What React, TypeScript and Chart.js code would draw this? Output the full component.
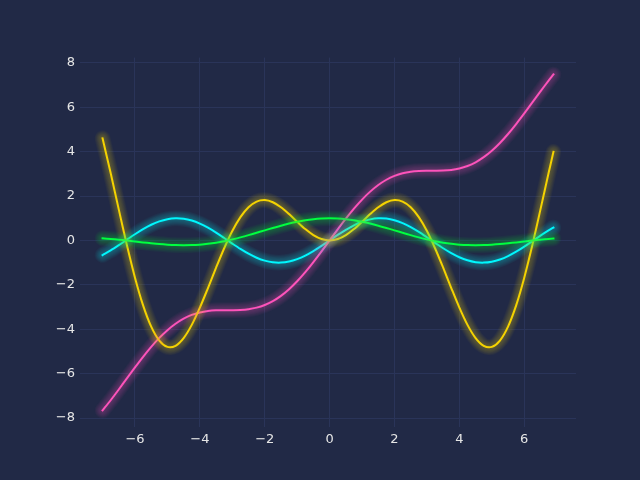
import React, { useEffect, useRef } from "react";
import { Chart, registerables } from "chart.js";

Chart.register(...registerables);

const xValues = [
  -7, -6.75, -6.5, -6.25, -6, -5.75, -5.5, -5.25, -5, -4.75, -4.5, -4.25, -4, -3.75, -3.5, -3.25,
  -3, -2.75, -2.5, -2.25, -2, -1.75, -1.5, -1.25, -1, -0.75, -0.5, -0.25, 0, 0.25, 0.5, 0.75,
  1, 1.25, 1.5, 1.75, 2, 2.25, 2.5, 2.75, 3, 3.25, 3.5, 3.75, 4, 4.25, 4.5, 4.75,
  5, 5.25, 5.5, 5.75, 6, 6.25, 6.5, 6.75, 6.9,
];

const cyanValues = [
  -0.657, -0.45, -0.215, 0.033, 0.279, 0.508, 0.706, 0.859, 0.959, 0.999, 0.978, 0.895, 0.757, 0.572, 0.351, 0.108,
  -0.141, -0.382, -0.599, -0.778, -0.909, -0.984, -0.998, -0.949, -0.841, -0.682, -0.479, -0.247, 0, 0.247, 0.479, 0.682,
  0.841, 0.949, 0.998, 0.984, 0.909, 0.778, 0.599, 0.382, 0.141, -0.108, -0.351, -0.572, -0.757, -0.895, -0.978, -0.999,
  -0.959, -0.859, -0.706, -0.508, -0.279, -0.033, 0.215, 0.45, 0.578,
];

const pinkValues = [
  -7.657, -7.2, -6.715, -6.217, -5.721, -5.242, -4.794, -4.391, -4.041, -3.751, -3.522, -3.355, -3.243, -3.178, -3.149, -3.142,
  -3.141, -3.132, -3.099, -3.028, -2.909, -2.734, -2.498, -2.199, -1.841, -1.432, -0.979, -0.497, 0, 0.497, 0.979, 1.432,
  1.841, 2.199, 2.498, 2.734, 2.909, 3.028, 3.099, 3.132, 3.141, 3.142, 3.149, 3.178, 3.243, 3.355, 3.522, 3.751,
  4.041, 4.391, 4.794, 5.242, 5.721, 6.217, 6.715, 7.2, 7.478,
];

const yellowValues = [
  4.599, 3.038, 1.398, -0.208, -1.676, -2.923, -3.88, -4.509, -4.795, -4.747, -4.399, -3.804, -3.027, -2.144, -1.228, -0.352,
  0.423, 1.05, 1.496, 1.751, 1.819, 1.722, 1.496, 1.186, 0.841, 0.511, 0.24, 0.062, 0, 0.062, 0.24, 0.511,
  0.841, 1.186, 1.496, 1.722, 1.819, 1.751, 1.496, 1.05, 0.423, -0.352, -1.228, -2.144, -3.027, -3.804, -4.399, -4.747,
  -4.795, -4.509, -3.88, -2.923, -1.676, -0.208, 1.398, 3.038, 3.991,
];

const greenValues = [
  0.094, 0.067, 0.033, -0.005, -0.047, -0.088, -0.128, -0.164, -0.192, -0.21, -0.217, -0.211, -0.189, -0.152, -0.1, -0.033,
  0.047, 0.139, 0.239, 0.346, 0.455, 0.562, 0.665, 0.759, 0.841, 0.909, 0.959, 0.99, 1, 0.99, 0.959, 0.909,
  0.841, 0.759, 0.665, 0.562, 0.455, 0.346, 0.239, 0.139, 0.047, -0.033, -0.1, -0.152, -0.189, -0.211, -0.217, -0.21,
  -0.192, -0.164, -0.128, -0.088, -0.047, -0.005, 0.033, 0.067, 0.084,
];

const xTicks = [-6, -4, -2, 0, 2, 4, 6];
const yTicks = [-8, -6, -4, -2, 0, 2, 4, 6, 8];

const seriesList = [
  { name: "sin", color: "#08F7FE", rgb: "8,247,254", values: cyanValues },
  { name: "x+sin", color: "#FE53BB", rgb: "254,83,187", values: pinkValues },
  { name: "x sin", color: "#F5D300", rgb: "245,211,0", values: yellowValues },
  { name: "sinc", color: "#00ff41", rgb: "0,255,65", values: greenValues },
];

const fmt = (v: number) => (v < 0 ? "\u2212" + Math.abs(v) : String(v));

export default function App() {
  const ref = useRef<HTMLCanvasElement | null>(null);
  useEffect(() => {
    if (!ref.current) return;
    const pt = 4 / 3;
    const baseLw = 1.5;
    const datasets: any[] = [];
    seriesList.forEach((s) => {
      datasets.push({
        label: s.name,
        data: xValues.map((x, i) => ({ x, y: s.values[i] })),
        borderColor: s.color,
        borderWidth: baseLw * pt,
        pointRadius: 0,
        tension: 0.3,
        borderCapStyle: "square",
        fill: false,
      });
    });
    seriesList.forEach((s) => {
      for (let n = 1; n <= 10; n++) {
        datasets.push({
          label: s.name + " glow " + n,
          data: xValues.map((x, i) => ({ x, y: s.values[i] })),
          borderColor: `rgba(${s.rgb},0.03)`,
          borderWidth: (baseLw + 1.05 * n) * pt,
          pointRadius: 0,
          tension: 0.3,
          borderCapStyle: "round",
          borderJoinStyle: "round",
          fill: false,
        });
      }
    });
    const total = datasets.length;
    datasets.forEach((d, i) => (d.order = total - i));

    const chart = new Chart(ref.current, {
      type: "line",
      data: { datasets },
      options: {
        animation: false,
        responsive: false,
        maintainAspectRatio: false,
        layout: { padding: { left: 0, top: 57.6, right: 64, bottom: 0 } },
        plugins: { legend: { display: false }, tooltip: { enabled: false } },
        scales: {
          x: {
            type: "linear",
            min: -7.695,
            max: 7.595,
            afterBuildTicks: (scale: any) => {
              scale.ticks = xTicks.map((v) => ({ value: v }));
            },
            afterFit: (scale: any) => {
              scale.height = 480 - 427.2;
            },
            grid: { color: "#2A3459", lineWidth: 1, drawTicks: false },
            border: { display: false },
            ticks: {
              color: "#e6e6e6",
              padding: 5,
              maxRotation: 0,
              font: { family: "'DejaVu Sans'", size: 13 },
              callback: (v: any) => fmt(Number(v)),
            },
          },
          y: {
            type: "linear",
            min: -8.414,
            max: 8.237,
            afterBuildTicks: (scale: any) => {
              scale.ticks = yTicks.map((v) => ({ value: v }));
            },
            afterFit: (scale: any) => {
              scale.width = 80;
            },
            grid: { color: "#2A3459", lineWidth: 1, drawTicks: false },
            border: { display: false },
            ticks: {
              color: "#e6e6e6",
              padding: 5,
              font: { family: "'DejaVu Sans'", size: 13 },
              callback: (v: any) => fmt(Number(v)),
            },
          },
        },
      },
    });
    return () => chart.destroy();
  }, []);

  return (
    <div
      style={{
        position: "fixed",
        left: 0,
        top: 0,
        width: 640,
        height: 480,
        background: "#212946",
      }}
    >
      <canvas ref={ref} width={640} height={480} style={{ width: 640, height: 480, display: "block" }} />
    </div>
  );
}
